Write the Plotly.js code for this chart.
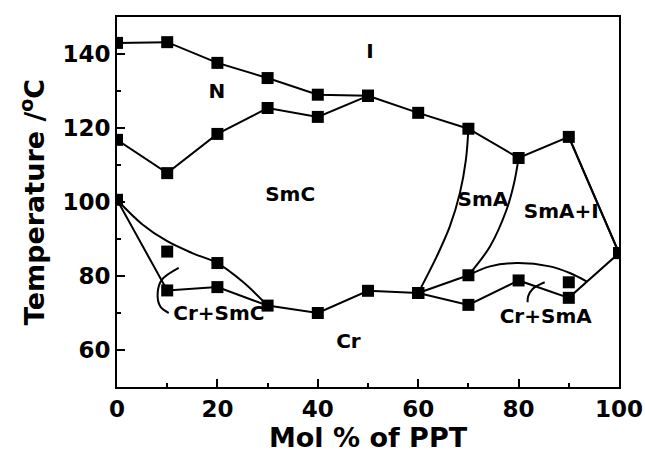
<!DOCTYPE html>
<html>
<head>
<meta charset="utf-8">
<script src="https://cdn.plot.ly/plotly-3.0.1.min.js"></script>
<style>html,body{margin:0;padding:0;background:#fff;}#chart{width:645px;height:454px;}</style>
</head>
<body>
<div id="chart"></div>
<script>
// ---- data ----
// N -> I line
const niX = [0, 10, 20, 30, 40, 50];
const niY = [143.0, 143.2, 137.6, 133.5, 129.0, 128.7];
// SmC -> N line
const cnX = [0, 10, 20, 30, 40, 50];
const cnY = [116.8, 107.8, 118.4, 125.4, 123.0, 128.7];
// SmA -> I / clearing line at high PPT
const aiX = [50, 60, 70, 80, 90, 100];
const aiY = [128.7, 124.1, 119.8, 111.9, 117.6, 86.2];
// melting line (Cr)
const crX = [0, 10, 20, 30, 40, 50, 60];
const crY = [100.6, 76.1, 77.0, 72.0, 70.0, 76.0, 75.4];
// Cr+SmC upper boundary (curve) and its points
const csCurveX = [0, 5, 10, 15, 20, 25, 30];
const csCurveY = [100.6, 94.0, 89.4, 86.2, 83.5, 78.5, 72.0];
const csPtsX = [10, 20];
const csPtsY = [86.6, 83.5];
// Cr+SmA lower line
const caX = [60, 70, 80, 90, 100];
const caY = [75.4, 72.2, 78.8, 74.1, 86.2];
// SmA lower boundary: 60 -> 70 then arc
const saLineX = [60, 70];
const saLineY = [75.4, 80.2];
const saArcX = [70, 74.3, 79.6, 86.2, 90.2, 93.6];
const saArcY = [80.2, 82.6, 83.5, 82.6, 80.8, 78.5];
const saPtX = [90];
const saPtY = [78.3];
// SmC / SmA boundary curve
const cAX = [60, 63.7, 66.3, 68.3, 69.5, 70];
const cAY = [75.4, 85.3, 93.4, 102.4, 111.4, 119.8];
// SmA / SmA+I boundary curve
const aAX = [70, 74.3, 77.6, 79.1, 80];
const aAY = [80.2, 88.0, 97.9, 105.1, 111.9];
// SmA+I / I boundary
const aiEdgeX = [90, 100];
const aiEdgeY = [117.6, 86.2];
// label pointer arcs
const p1X = [12.3, 8.95, 8.1, 8.6, 10.3];
const p1Y = [82.2, 79.0, 75.4, 71.8, 70.0];
const p2X = [85.2, 82.8, 81.9, 81.8];
const p2Y = [78.3, 76.5, 74.5, 72.9];
// phase labels
const labelText = ['I', 'N', 'SmC', 'Cr', 'SmA', 'SmA+I', 'Cr+SmC', 'Cr+SmA'];
const labelX = [50.4, 19.9, 34.5, 46.1, 72.9, 88.5, 20.3, 85.4];
const labelY = [140.3, 129.5, 101.5, 61.9, 100.2, 97.0, 69.5, 68.6];
// ticks
const xTicks = [0, 20, 40, 60, 80, 100];
const yTicks = [60, 80, 100, 120, 140];

const black = '#000';
const fam = 'DejaVu Sans, sans-serif';
const mk = {symbol: 'square', size: 12, color: black};
const ln = {color: black, width: 2};
function lm(x, y) { return {x, y, mode: 'lines+markers', line: ln, marker: mk, hoverinfo: 'skip'}; }
function lo(x, y, spline) { return {x, y, mode: 'lines', line: Object.assign({}, ln, spline ? {shape: 'spline', smoothing: 1} : {}), hoverinfo: 'skip'}; }
function mo(x, y) { return {x, y, mode: 'markers', marker: mk, hoverinfo: 'skip'}; }

const traces = [
  lm(niX, niY), lm(cnX, cnY), lm(aiX, aiY), lm(crX, crY),
  lo(csCurveX, csCurveY, true), mo(csPtsX, csPtsY),
  lm(caX, caY), lm(saLineX, saLineY), lo(saArcX, saArcY, true), mo(saPtX, saPtY),
  lo(cAX, cAY, true), lo(aAX, aAY, true), lo(aiEdgeX, aiEdgeY, false),
  lo(p1X, p1Y, true), lo(p2X, p2Y, true),
  {x: labelX, y: labelY, text: labelText, mode: 'text', textposition: 'middle center',
   textfont: {family: fam, size: 20, color: black, weight: 'bold'}, hoverinfo: 'skip'}
];

const tickFont = {family: fam, size: 23, color: black, weight: 'bold'};
const titleFont = {family: fam, size: 27, color: black, weight: 'bold'};

const layout = {
  width: 645, height: 454,
  margin: {l: 117, r: 26, t: 17, b: 67},
  paper_bgcolor: '#fff', plot_bgcolor: '#fff',
  showlegend: false,
  xaxis: {
    range: [0, 100], tickvals: xTicks, ticktext: xTicks.map(String),
    showgrid: false, zeroline: false, showline: true, mirror: true, linecolor: black, linewidth: 2,
    ticks: 'inside', ticklen: 8, tickwidth: 2, tickcolor: black,
    minor: {dtick: 10, ticks: 'inside', ticklen: 4, tickwidth: 2, tickcolor: black, showgrid: false},
    tickfont: tickFont,
    title: {text: 'Mol % of PPT', font: titleFont, standoff: 4}
  },
  yaxis: {
    range: [50, 150], tickvals: yTicks, ticktext: yTicks.map(String),
    showgrid: false, zeroline: false, showline: true, mirror: true, linecolor: black, linewidth: 2,
    ticks: 'inside', ticklen: 8, tickwidth: 2, tickcolor: black,
    minor: {dtick: 10, ticks: 'inside', ticklen: 4, tickwidth: 2, tickcolor: black, showgrid: false},
    tickfont: tickFont,
    title: {text: 'Temperature /<sup>o</sup>C', font: titleFont, standoff: 10}
  }
};

Plotly.newPlot('chart', traces, layout, {staticPlot: true, displayModeBar: false});
</script>
</body>
</html>
